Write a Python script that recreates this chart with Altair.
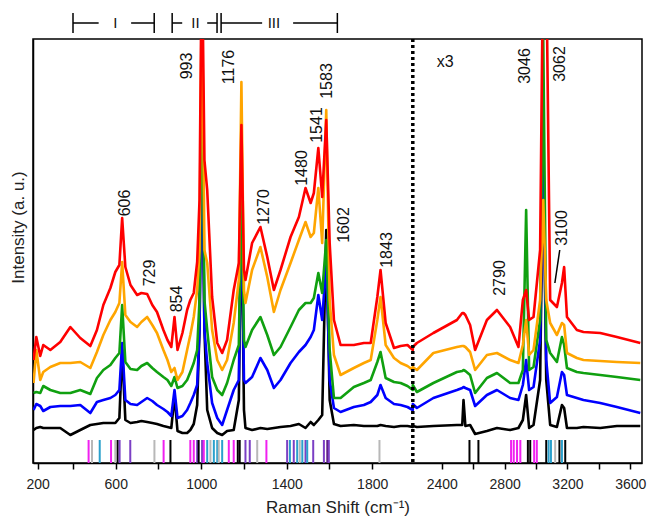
import altair as alt
import pandas as pd

# ---------------- data ----------------
wavenumber = [178, 193, 215, 232, 272, 328, 385, 434, 481, 512, 542, 575, 598, 617, 630, 645, 669, 700, 720, 747,
              771, 793, 823, 842, 860, 875, 889, 912, 934, 949, 965, 981, 992, 1003, 1015, 1028, 1051, 1075, 1098, 1121,
              1152, 1176, 1188, 1200, 1207, 1238, 1277, 1309, 1340, 1371, 1418, 1457, 1488, 1512, 1527, 1548, 1566, 1585, 1601, 1621,
              1652, 1714, 1761, 1793, 1824, 1839, 1863, 1902, 1933, 1965, 1990, 2215, 2241, 2346, 2496, 2530, 2538, 2550, 2580, 2612,
              2687, 2751, 2835, 2888, 2916, 2937, 2956, 2984, 3026, 3046, 3065, 3090, 3133, 3165, 3179, 3197, 3260, 3302, 3409, 3515,
              3664]

black = [33, 35, 36, 35, 35, 35, 28, 33, 38, 39, 40, 40, 40, 45, 113, 43, 40, 41, 42, 41,
         40, 39, 37, 36, 35, 67, 32, 30, 30, 33, 39, 58, 133, 343, 133, 53, 35, 30, 28, 32,
         33, 63, 263, 53, 35, 33, 35, 34, 35, 36, 37, 39, 35, 41, 38, 43, 48, 233, 63, 39,
         37, 38, 37, 37, 37, 38, 37, 36, 37, 37, 36, 37, 36, 37, 38, 38, 63, 37, 38, 29,
         32, 35, 33, 35, 43, 68, 35, 38, 83, 313, 83, 38, 36, 58, 55, 35, 35, 36, 35, 37,
         37]

blue = [53, 59, 57, 52, 56, 57, 57, 58, 50, 61, 63, 65, 68, 73, 120, 63, 59, 58, 61, 65,
        62, 58, 54, 51, 47, 73, 45, 47, 53, 60, 68, 78, 133, 353, 133, 100, 60, 45, 38, 53,
        73, 83, 273, 83, 80, 86, 105, 93, 75, 83, 100, 111, 118, 126, 133, 168, 143, 203, 83, 55,
        51, 56, 58, 61, 68, 78, 65, 59, 58, 56, 53, 59, 55, 65, 73, 75, 76, 75, 73, 57,
        68, 73, 65, 63, 78, 103, 73, 76, 123, 313, 103, 60, 66, 91, 88, 68, 65, 63, 60, 56,
        50]

green = [70, 71, 70, 77, 73, 70, 70, 73, 69, 85, 93, 98, 105, 110, 158, 101, 94, 93, 97, 100,
         95, 91, 86, 83, 77, 86, 75, 77, 83, 91, 100, 113, 163, 413, 163, 133, 86, 73, 68, 80,
         103, 118, 283, 123, 116, 133, 146, 128, 108, 116, 136, 153, 160, 160, 165, 190, 170, 223, 113, 65,
         65, 76, 80, 83, 101, 111, 85, 81, 80, 77, 73, 78, 71, 80, 91, 92, 93, 92, 88, 70,
         85, 90, 80, 80, 93, 253, 93, 96, 143, 423, 123, 110, 101, 126, 118, 95, 91, 90, 88, 86,
         83]

orange = [80, 113, 83, 91, 96, 100, 100, 101, 95, 111, 128, 143, 151, 160, 201, 148, 141, 136, 141, 146,
          138, 130, 113, 103, 91, 95, 83, 91, 113, 128, 146, 173, 213, 483, 213, 200, 133, 103, 93, 103,
          140, 183, 381, 173, 160, 193, 216, 186, 151, 173, 200, 223, 241, 226, 230, 275, 220, 353, 163, 108,
          88, 95, 100, 103, 143, 166, 118, 105, 100, 97, 93, 96, 93, 110, 116, 117, 117, 116, 111, 93,
          108, 110, 103, 100, 118, 143, 108, 113, 163, 263, 163, 140, 128, 140, 138, 110, 105, 103, 102, 101,
          100]

red = [103, 126, 107, 118, 113, 121, 136, 125, 117, 133, 158, 175, 191, 198, 245, 196, 178, 168, 170, 169,
       158, 151, 133, 123, 116, 146, 113, 130, 153, 163, 170, 201, 263, 523, 303, 273, 166, 120, 110, 123,
       173, 200, 338, 193, 183, 220, 236, 206, 173, 193, 226, 246, 275, 260, 270, 315, 266, 343, 220, 143,
       118, 118, 120, 120, 166, 193, 140, 115, 117, 118, 113, 116, 120, 130, 143, 150, 150, 148, 138, 113,
       143, 153, 136, 116, 163, 173, 143, 146, 213, 523, 503, 163, 156, 180, 196, 146, 133, 131, 130, 126,
       120]

series_names = ["black", "blue", "green", "orange", "red"]
series_values = [black, blue, green, orange, red]
series_colors = ["#000000", "#0000ff", "#10a010", "#ffa500", "#ff0000"]

# calculated vibrational modes (stick spectrum)
stick_x = [473, 489, 525, 578, 598, 609, 618, 668, 781, 824, 856, 949, 965, 981, 988, 1004, 1012, 1028, 1043, 1059,
           1075, 1082, 1098, 1129, 1152, 1171, 1180, 1207, 1227, 1262, 1305, 1402, 1415, 1433, 1449, 1461, 1473, 1488, 1496, 1524,
           1574, 1590, 1597, 1834, 2576, 2633, 2841, 2858, 2879, 2900, 2948, 2963, 2988, 3005, 3065, 3080, 3095, 3122, 3149, 3165, 3186]
stick_kind = ["m", "g", "c", "m", "g", "k", "p", "p", "g", "m", "k", "m", "m", "p", "k", "p", "m", "c", "g", "c",
              "c", "g", "c", "m", "m", "k", "k", "p", "p", "g", "m", "p", "c", "p", "c", "g", "c", "p", "c", "p",
              "p", "d", "p", "g", "k", "k", "m", "m", "m", "m", "k", "k", "m", "m", "k", "c", "c", "g", "k", "c", "k"]
stick_kinds = ["m", "c", "k", "g", "p", "d"]
stick_colors = ["#f020f0", "#2aa0cc", "#000000", "#b8b8b8", "#7b3fc4", "#5a1a80"]

# peak labels
peak_text = ["606", "729", "854", "993", "1176", "1270", "1480", "1541", "1583", "1602", "1843", "2790", "3046", "3062", "3100"]
peak_x = [645, 762, 887, 934, 1132, 1293, 1473, 1540, 1590, 1668, 1871, 2772, 2931, 3154, 3164]
peak_y = [260, 190, 164, 397, 396, 256, 295, 338, 382, 238, 213, 185, 397, 399, 235]
pointer_x = [3151]
pointer_x2 = [3120]
pointer_y = [213]
pointer_y2 = [180]

# region brackets
bracket_names = ["I", "II", "III"]
bracket_start = [400, 864, 1093]
bracket_end = [780, 1074, 1637]
bracket_gap_lo = [520, 911, 1285]
bracket_gap_hi = [672, 1028, 1430]
bracket_label_x = [598, 973, 1340]

break_x = [1990]
scale_note = ["x3"]
scale_note_x = [2421]
scale_note_y = [401]

tick_values = [200, 400, 600, 800, 1000, 1200, 1400, 1600, 1800, 2400, 2600, 2800, 3000, 3200, 3400, 3600]

# ---------------- chart ----------------
W, H = 609, 424
FONT = "Liberation Sans"

xscale = alt.Scale(domain=[175, 200, 400, 1990, 2215, 3675],
                   range=[0, 4.6, 40, 379.8, 379.8, W], nice=False, zero=False)
yscale = alt.Scale(domain=[0, 424], nice=False, zero=False)

x_axis = alt.Axis(values=tick_values, format="d", grid=False, tickSize=6, tickColor="black", tickWidth=1.5,
                  domainColor="black", domainWidth=1.5, labelFont=FONT, labelFontSize=14,
                  labelColor="#222222", labelPadding=8, labelFlush=False, labelOverlap=False,
                  labelExpr="(datum.value < 2000 ? datum.value % 400 == 200 : datum.value % 400 == 0) ? datum.label : ''",
                  title="Raman Shift (cm\u207b\u00b9)", titleFont=FONT, titleFontSize=17,
                  titleFontWeight="normal", titleColor="#222222", titlePadding=8)
y_axis = alt.Axis(ticks=False, labels=False, grid=False, domainColor="black", domainWidth=1.5,
                  title="Intensity (a. u.)", titleFont=FONT, titleFontSize=17, titleFontWeight="normal",
                  titleColor="#222222", titleX=-15, titleY=188, titleAngle=270,
                  titleAlign="center", titleBaseline="middle")


def X(field):
    return alt.X(field, scale=xscale, axis=x_axis)


def Y(field):
    return alt.Y(field, scale=yscale, axis=y_axis)


layers = []
for name, vals, col in zip(series_names, series_values, series_colors):
    df = pd.DataFrame({"x": wavenumber, "y": vals})
    layers.append(alt.Chart(df).mark_line(color=col, strokeWidth=2.6, clip=True, strokeJoin="round")
                  .encode(x=X("x:Q"), y=Y("y:Q")))

sticks_df = pd.DataFrame({"x": stick_x, "kind": stick_kind})
sticks = alt.Chart(sticks_df).mark_rule(strokeWidth=2).encode(
    x=X("x:Q"),
    y=alt.value(H - 23), y2=alt.value(H),
    color=alt.Color("kind:N", scale=alt.Scale(domain=stick_kinds, range=stick_colors), legend=None))

break_df = pd.DataFrame({"x": break_x})
break_line = alt.Chart(break_df).mark_rule(color="black", strokeWidth=3.5, strokeDash=[3, 3]).encode(
    x=X("x:Q"), y=alt.value(0), y2=alt.value(H))

peaks_df = pd.DataFrame({"t": peak_text, "x": peak_x, "y": peak_y})
peaks = alt.Chart(peaks_df).mark_text(angle=270, font=FONT, fontSize=16, color="#111111",
                                      align="center", baseline="middle").encode(
    x=X("x:Q"), y=Y("y:Q"), text="t:N")

ptr_df = pd.DataFrame({"x": pointer_x, "x2": pointer_x2, "y": pointer_y, "y2": pointer_y2})
pointer = alt.Chart(ptr_df).mark_rule(color="black", strokeWidth=1.5).encode(
    x=X("x:Q"), x2="x2:Q", y=Y("y:Q"), y2="y2:Q")

note_df = pd.DataFrame({"t": scale_note, "x": scale_note_x, "y": scale_note_y})
note = alt.Chart(note_df).mark_text(font=FONT, fontSize=16, color="#111111",
                                    align="center", baseline="middle").encode(
    x=X("x:Q"), y=Y("y:Q"), text="t:N")

br_df = pd.DataFrame({"name": bracket_names, "s": bracket_start, "e": bracket_end,
                      "glo": bracket_gap_lo, "ghi": bracket_gap_hi, "lx": bracket_label_x})
br_left = alt.Chart(br_df).mark_rule(color="black", strokeWidth=1.5).encode(
    x=X("s:Q"), x2="glo:Q", y=alt.value(-16))
br_right = alt.Chart(br_df).mark_rule(color="black", strokeWidth=1.5).encode(
    x=X("ghi:Q"), x2="e:Q", y=alt.value(-16))
br_tick_s = alt.Chart(br_df).mark_rule(color="black", strokeWidth=1.5).encode(
    x=X("s:Q"), y=alt.value(-26), y2=alt.value(-6))
br_tick_e = alt.Chart(br_df).mark_rule(color="black", strokeWidth=1.5).encode(
    x=X("e:Q"), y=alt.value(-26), y2=alt.value(-6))
br_label = alt.Chart(br_df).mark_text(font=FONT, fontSize=15, color="#111111",
                                      align="center", baseline="middle").encode(
    x=X("lx:Q"), y=alt.value(-16), text="name:N")

chart = alt.layer(*layers, sticks, break_line, peaks, pointer, note,
                  br_left, br_right, br_tick_s, br_tick_e, br_label).properties(
    width=W, height=H,
    autosize=alt.AutoSizeParams(type="none"),
    padding={"left": 33, "top": 39, "right": 12, "bottom": 60},
    background="white",
).configure_view(stroke="black", strokeWidth=1.5)

chart.save("out.html", embed_options={"renderer": "svg", "actions": False})
